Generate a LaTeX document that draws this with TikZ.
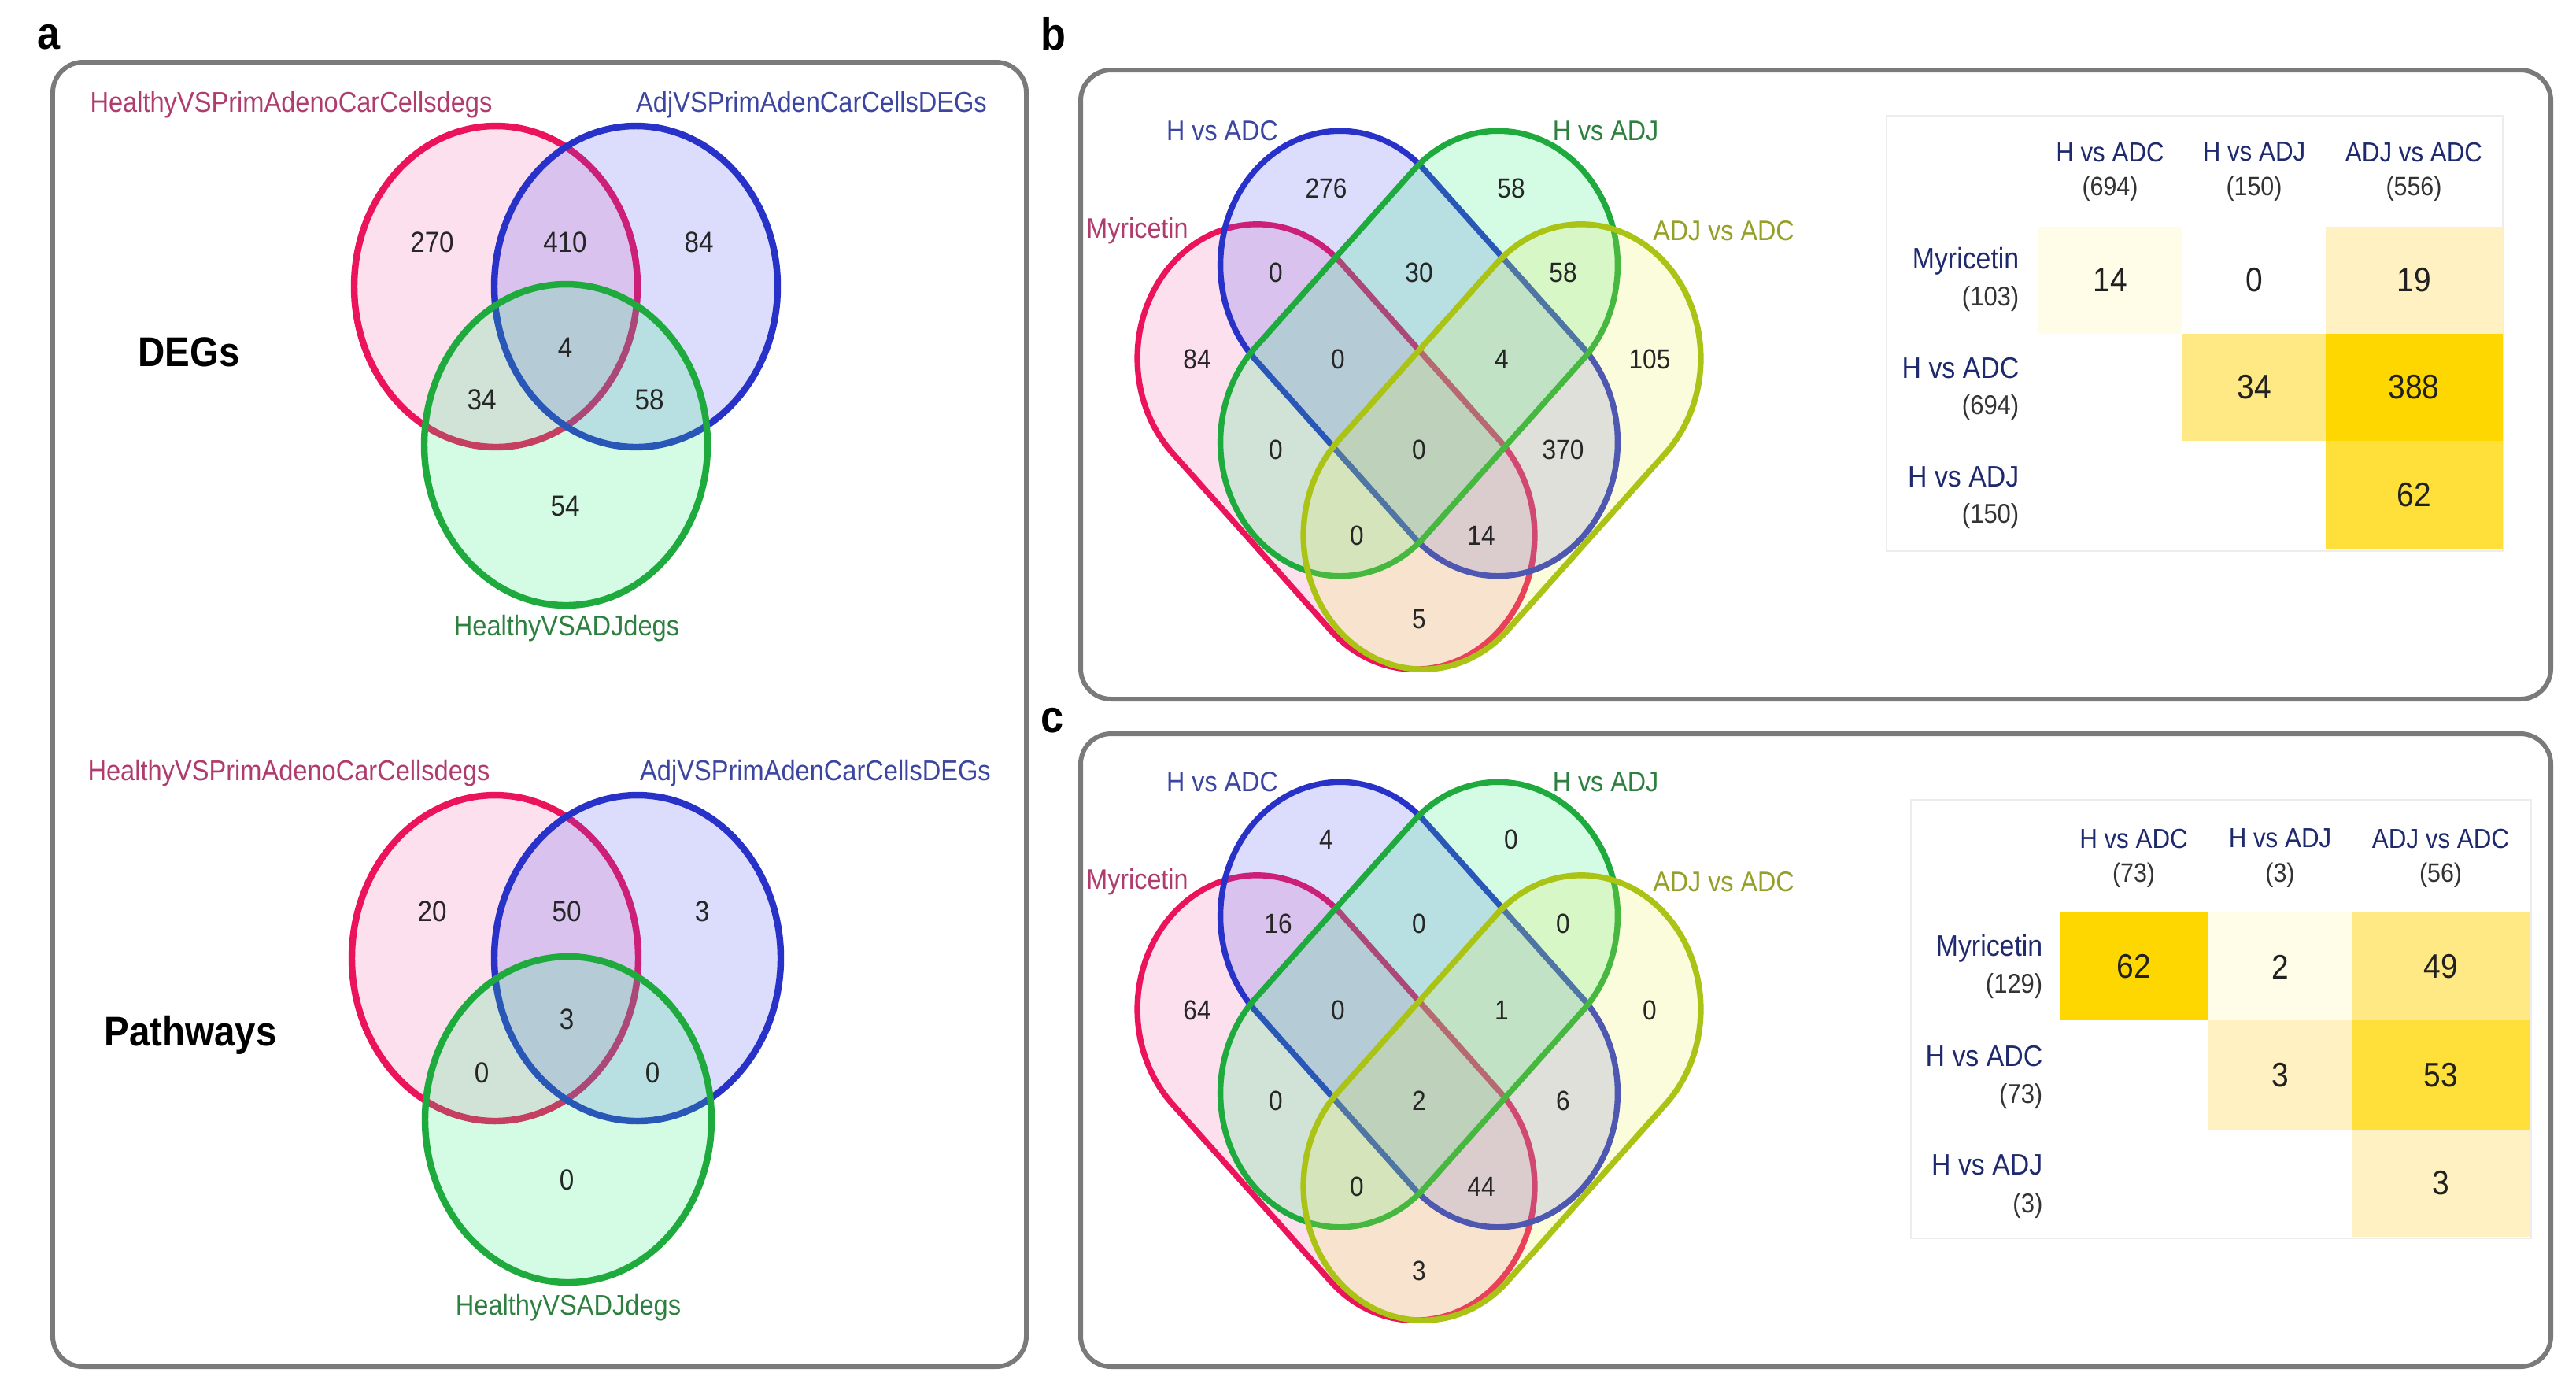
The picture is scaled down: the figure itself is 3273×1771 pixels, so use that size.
\documentclass[tikz,border=0pt]{standalone}
\usepackage{fontspec}
\setmainfont{Liberation Sans}
\newfontfamily\lab[FakeStretch=0.9]{Liberation Sans}
\newcommand\fsz[1]{\fontsize{#1}{#1}\selectfont}
\definecolor{rS}{HTML}{EB145A}
\definecolor{rF}{HTML}{F064AA}
\definecolor{bS}{HTML}{2832C8}
\definecolor{bF}{HTML}{5050F0}
\definecolor{gS}{HTML}{1EAA3C}
\definecolor{gF}{HTML}{28EB78}
\definecolor{yS}{HTML}{AAC314}
\definecolor{yF}{HTML}{E6F050}
\definecolor{rT}{HTML}{B03C6E}
\definecolor{bT}{HTML}{3C46A0}
\definecolor{gT}{HTML}{2E8040}
\definecolor{yT}{HTML}{96A028}
\definecolor{navy}{HTML}{1F2A6E}
\definecolor{frame}{HTML}{7A7A7A}
\definecolor{cA}{HTML}{FFD700}
\definecolor{cB}{HTML}{FFDF3A}
\definecolor{cC}{HTML}{FFE985}
\definecolor{cD}{HTML}{FFF1C1}
\definecolor{cE}{HTML}{FFFDE8}
\newcommand\stadiumpath{(142,-152) arc[start angle=-90,end angle=90,radius=152] -- (-142,152) arc[start angle=90,end angle=270,radius=152] -- cycle}
\begin{document}
\begin{tikzpicture}[x=0.01cm,y=-0.01cm,
  panel/.style={draw=frame, line width=1.7pt, rounded corners=11pt},
  letter/.style={font=\lab\bfseries\fsz{16.5pt}, inner sep=0pt},
  ttl/.style={font=\lab\bfseries\fsz{15pt}, inner sep=0pt},
  alab/.style={font=\lab\fsz{10.3pt}, inner sep=0pt},
  anum/.style={font=\lab\fsz{10.5pt}, text=black!85, inner sep=0pt},
  vlab/.style={font=\lab\fsz{10.2pt}, inner sep=0pt},
  vnum/.style={font=\lab\fsz{10pt}, text=black!85, inner sep=0pt},
  thead/.style={font=\lab\fsz{9.9pt}, text=navy, inner sep=0pt},
  tcnt/.style={font=\lab\fsz{9.6pt}, text=black!80, inner sep=0pt},
  trow/.style={font=\lab\fsz{10.7pt}, text=navy, inner sep=0pt, anchor=east},
  trcnt/.style={font=\lab\fsz{9.8pt}, text=black!80, inner sep=0pt, anchor=east},
  tval/.style={font=\lab\fsz{12.3pt}, text=black!87, inner sep=0pt},
  tbl/.style={draw=black!7, fill=white, line width=0.6pt},
  vr/.style={draw=rS, fill=rF, fill opacity=0.2, line width=#1},
  vb/.style={draw=bS, fill=bF, fill opacity=0.2, line width=#1},
  vg/.style={draw=gS, fill=gF, fill opacity=0.2, line width=#1},
  vy/.style={draw=yS, fill=yF, fill opacity=0.2, line width=#1}]
\useasboundingbox (0,0) rectangle (3273,1771);
\fill[white] (0,0) rectangle (3273,1771);

% panels
\draw[panel] (67,79) rectangle (1304,1736);
\draw[panel] (1373,89) rectangle (3241,888);
\draw[panel] (1373,932) rectangle (3241,1736);
\node[letter] (la) at (62,47) {a};
\node[letter] (lb) at (1338,43) {b};
\node[letter] (lc) at (1337,915) {c};

% ---------- panel a : DEGs ----------
\draw[vr=2.4pt] (630,364) ellipse [x radius=180, y radius=204];
\draw[vb=2.4pt] (808,364) ellipse [x radius=180, y radius=204];
\draw[vg=2.4pt] (719,565) ellipse [x radius=180, y radius=204];
\node[alab, text=rT] (a1r) at (370,133) {HealthyVSPrimAdenoCarCellsdegs};
\node[alab, text=bT] (a1b) at (1031,133) {AdjVSPrimAdenCarCellsDEGs};
\node[alab, text=gT] (a1g) at (720,798) {HealthyVSADJdegs};
\node[ttl] (a1t) at (240,447) {DEGs};
\node[anum] (a1n1) at (549,308) {270};
\node[anum] (a1n2) at (718,308) {410};
\node[anum] (a1n3) at (888,308) {84};
\node[anum] (a1n4) at (718,442) {4};
\node[anum] (a1n5) at (612,508) {34};
\node[anum] (a1n6) at (825,508) {58};
\node[anum] (a1n7) at (718,643) {54};

% ---------- panel a : Pathways ----------
\draw[vr=2.4pt] (629,1217) ellipse [x radius=182, y radius=207];
\draw[vb=2.4pt] (810,1217) ellipse [x radius=182, y radius=207];
\draw[vg=2.4pt] (722,1422) ellipse [x radius=182, y radius=207];
\node[alab, text=rT] (a2r) at (367,982) {HealthyVSPrimAdenoCarCellsdegs};
\node[alab, text=bT] (a2b) at (1036,982) {AdjVSPrimAdenCarCellsDEGs};
\node[alab, text=gT] (a2g) at (722,1661) {HealthyVSADJdegs};
\node[ttl] (a2t) at (242,1315) {Pathways};
\node[anum] (a2n1) at (549,1158) {20};
\node[anum] (a2n2) at (720,1158) {50};
\node[anum] (a2n3) at (892,1158) {3};
\node[anum] (a2n4) at (720,1295) {3};
\node[anum] (a2n5) at (612,1363) {0};
\node[anum] (a2n6) at (829,1363) {0};
\node[anum] (a2n7) at (720,1499) {0};

% ---------- panel b : 4-set venn ----------
\begin{scope}[shift={(1803,449)}, yscale=1.12]
  \draw[vr=2.1pt, shift={(-105.5,105.8)}, rotate=-45] \stadiumpath;
  \draw[vb=2.1pt, rotate=-45] \stadiumpath;
  \draw[vg=2.1pt, rotate=45] \stadiumpath;
  \draw[vy=2.1pt, shift={(105.5,105.8)}, rotate=45] \stadiumpath;
\end{scope}
\node[vlab, text=bT] (b1) at (1553,166) {H vs ADC};
\node[vlab, text=gT] (b2) at (2040,166) {H vs ADJ};
\node[vlab, text=rT] (b3) at (1445,293) {Myricetin};
\node[vlab, text=yT] (b4) at (2190,293) {ADJ vs ADC};
\node[vnum] (bn1) at (1685,239) {276};
\node[vnum] (bn2) at (1920,239) {58};
\node[vnum] (bn3) at (1621,346) {0};
\node[vnum] (bn4) at (1803,346) {30};
\node[vnum] (bn5) at (1986,346) {58};
\node[vnum] (bn6) at (1521,456) {84};
\node[vnum] (bn7) at (1700,456) {0};
\node[vnum] (bn8) at (1908,456) {4};
\node[vnum] (bn9) at (2096,456) {105};
\node[vnum] (bn10) at (1621,571) {0};
\node[vnum] (bn11) at (1803,571) {0};
\node[vnum] (bn12) at (1986,571) {370};
\node[vnum] (bn13) at (1724,680) {0};
\node[vnum] (bn14) at (1882,680) {14};
\node[vnum] (bn15) at (1803,787) {5};

% ---------- panel b : table ----------
\draw[tbl] (2397,147) rectangle (3180,700);
\fill[cE] (2589,288) rectangle (2773,424);
\fill[cD] (2955,288) rectangle (3180,424);
\fill[cC] (2773,424) rectangle (2955,560);
\fill[cA] (2955,424) rectangle (3180,560);
\fill[cB] (2955,560) rectangle (3180,698);
\node[thead] (bh1) at (2681,193) {H vs ADC};
\node[tcnt] (bh1c) at (2681,240) {(694)};
\node[thead] (bh2) at (2864,193) {H vs ADJ};
\node[tcnt] (bh2c) at (2864,240) {(150)};
\node[thead] (bh3) at (3067,193) {ADJ vs ADC};
\node[tcnt] (bh3c) at (3067,240) {(556)};
\node[trow] (br1) at (2566,332) {Myricetin};
\node[trcnt] (br1c) at (2566,380) {(103)};
\node[trow] (br2) at (2566,468) {H vs ADC};
\node[trcnt] (br2c) at (2566,518) {(694)};
\node[trow] (br3) at (2566,606) {H vs ADJ};
\node[trcnt] (br3c) at (2566,656) {(150)};
\node[tval] (bv11) at (2681,356) {14};
\node[tval] (bv12) at (2864,356) {0};
\node[tval] (bv13) at (3067,356) {19};
\node[tval] (bv22) at (2864,492) {34};
\node[tval] (bv23) at (3067,492) {388};
\node[tval] (bv33) at (3067,629) {62};

% ---------- panel c : 4-set venn ----------
\begin{scope}[shift={(1803,1276)}, yscale=1.12]
  \draw[vr=2.1pt, shift={(-105.5,105.8)}, rotate=-45] \stadiumpath;
  \draw[vb=2.1pt, rotate=-45] \stadiumpath;
  \draw[vg=2.1pt, rotate=45] \stadiumpath;
  \draw[vy=2.1pt, shift={(105.5,105.8)}, rotate=45] \stadiumpath;
\end{scope}
\node[vlab, text=bT] (c1) at (1553,993) {H vs ADC};
\node[vlab, text=gT] (c2) at (2040,993) {H vs ADJ};
\node[vlab, text=rT] (c3) at (1445,1120) {Myricetin};
\node[vlab, text=yT] (c4) at (2190,1120) {ADJ vs ADC};
\node[vnum] (cn1) at (1685,1066) {4};
\node[vnum] (cn2) at (1920,1066) {0};
\node[vnum] (cn3) at (1624,1173) {16};
\node[vnum] (cn4) at (1803,1173) {0};
\node[vnum] (cn5) at (1986,1173) {0};
\node[vnum] (cn6) at (1521,1283) {64};
\node[vnum] (cn7) at (1700,1283) {0};
\node[vnum] (cn8) at (1908,1283) {1};
\node[vnum] (cn9) at (2096,1283) {0};
\node[vnum] (cn10) at (1621,1398) {0};
\node[vnum] (cn11) at (1803,1398) {2};
\node[vnum] (cn12) at (1986,1398) {6};
\node[vnum] (cn13) at (1724,1507) {0};
\node[vnum] (cn14) at (1882,1507) {44};
\node[vnum] (cn15) at (1803,1614) {3};

% ---------- panel c : table ----------
\draw[tbl] (2428,1016) rectangle (3216,1573);
\fill[cA] (2617,1159) rectangle (2806,1296);
\fill[cE] (2806,1159) rectangle (2988,1296);
\fill[cC] (2988,1159) rectangle (3214,1296);
\fill[cD] (2806,1296) rectangle (2988,1435);
\fill[cB] (2988,1296) rectangle (3214,1435);
\fill[cD] (2988,1435) rectangle (3214,1571);
\node[thead] (ch1) at (2711,1065) {H vs ADC};
\node[tcnt] (ch1c) at (2711,1112) {(73)};
\node[thead] (ch2) at (2897,1065) {H vs ADJ};
\node[tcnt] (ch2c) at (2897,1112) {(3)};
\node[thead] (ch3) at (3101,1065) {ADJ vs ADC};
\node[tcnt] (ch3c) at (3101,1112) {(56)};
\node[trow] (cr1) at (2596,1205) {Myricetin};
\node[trcnt] (cr1c) at (2596,1253) {(129)};
\node[trow] (cr2) at (2596,1342) {H vs ADC};
\node[trcnt] (cr2c) at (2596,1393) {(73)};
\node[trow] (cr3) at (2596,1480) {H vs ADJ};
\node[trcnt] (cr3c) at (2596,1532) {(3)};
\node[tval] (cv11) at (2711,1228) {62};
\node[tval] (cv12) at (2897,1228) {2};
\node[tval] (cv13) at (3101,1228) {49};
\node[tval] (cv22) at (2897,1366) {3};
\node[tval] (cv23) at (3101,1366) {53};
\node[tval] (cv33) at (3101,1503) {3};
\end{tikzpicture}
\end{document}
